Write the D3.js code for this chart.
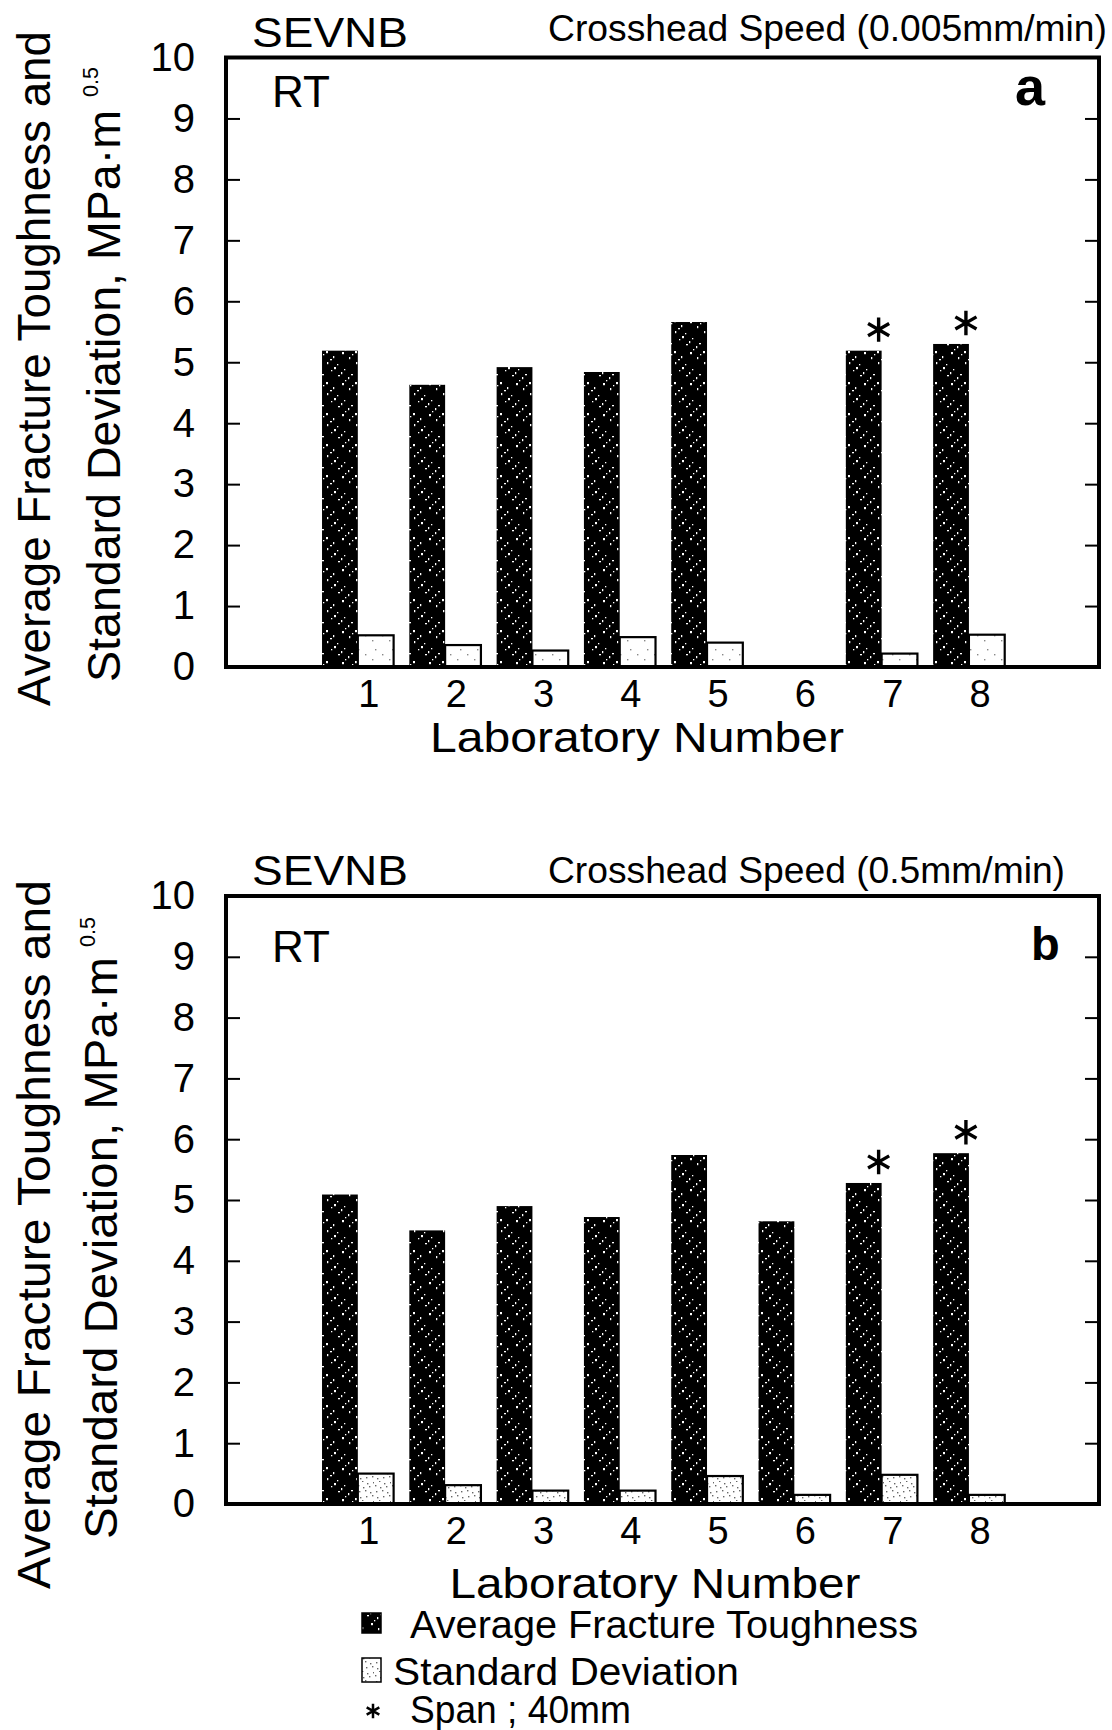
<!doctype html>
<html>
<head>
<meta charset="utf-8">
<script src="https://cdn.jsdelivr.net/npm/d3@7"></script>
<style>
  body { margin: 0; background: #fff; }
  svg { display: block; font-family: "Liberation Sans", Arial, sans-serif; }
</style>
</head>
<body>
<script>
// Values (MPa·m^0.5)
const labs = [1, 2, 3, 4, 5, 6, 7, 8];
const toughnessA = [5.19, 4.63, 4.92, 4.84, 5.66, null, 5.19, 5.30];
const stdDevA = [0.52, 0.36, 0.27, 0.49, 0.40, null, 0.22, 0.53];
const toughnessB = [5.09, 4.50, 4.90, 4.72, 5.74, 4.65, 5.28, 5.77];
const stdDevB = [0.50, 0.31, 0.22, 0.22, 0.46, 0.15, 0.48, 0.15];
const spanA = [7, 8]; // labs tested with 40 mm span
const spanB = [7, 8];
const yTicks = d3.range(0, 11);
const slots = d3.range(0, 10);

const width = 1112;
const height = 1730;

const svg = d3.select("body").append("svg")
    .attr("width", width)
    .attr("height", height)
    .attr("viewBox", [0, 0, width, height]);

// Textures: black with white specks, light stipple
const defs = svg.append("defs");
const dark = defs.append("pattern")
    .attr("id", "dark")
    .attr("patternUnits", "userSpaceOnUse")
    .attr("width", 29).attr("height", 31);
dark.append("rect").attr("width", 29).attr("height", 31).attr("fill", "#000");
dark.selectAll("rect.s")
  .data(d3.range(16))
  .join("rect")
    .attr("class", "s")
    .attr("x", (i) => (i * 11 + 3) % 29)
    .attr("y", (i) => (i * 13 + 2) % 31)
    .attr("width", (i) => (i % 3 === 0 ? 2 : 1.3))
    .attr("height", (i) => (i % 2 === 0 ? 1.3 : 2.2))
    .attr("fill", "#fff");

function stipple(id, n, color) {
  const p = defs.append("pattern")
      .attr("id", id)
      .attr("patternUnits", "userSpaceOnUse")
      .attr("width", 17).attr("height", 19);
  p.append("rect").attr("width", 17).attr("height", 19).attr("fill", "#fff");
  p.selectAll("rect.s")
    .data(d3.range(n))
    .join("rect")
      .attr("class", "s")
      .attr("x", (i) => (i * 7 + 1) % 17)
      .attr("y", (i) => (i * 5 + 3) % 19)
      .attr("width", 1.4).attr("height", 1.4)
      .attr("fill", color);
}
stipple("lightA", 3, "#888");
stipple("lightB", 12, "#666");

function drawPanel(p) {
  const x = d3.scaleBand(slots, [226, 1099]);
  const sub = d3.scaleBand(["aft", "sd"], [x.bandwidth() * 0.1, x.bandwidth() * 0.92]);
  const y = d3.scaleLinear([0, 10], [p.y0, p.y10]);
  const g = svg.append("g");

  const rows = labs.map((lab, i) => ({lab, aft: p.aft[i], sd: p.sd[i], span: p.span.includes(lab)}));

  // Average fracture toughness bars
  g.append("g")
    .selectAll("rect")
    .data(rows.filter((d) => d.aft != null))
    .join("rect")
      .attr("x", (d) => x(d.lab) + sub("aft"))
      .attr("width", sub.bandwidth())
      .attr("y", (d) => y(d.aft))
      .attr("height", (d) => y(0) - y(d.aft))
      .attr("fill", "url(#dark)");

  // Standard deviation bars
  g.append("g")
    .selectAll("rect")
    .data(rows.filter((d) => d.sd != null))
    .join("rect")
      .attr("x", (d) => x(d.lab) + sub("sd"))
      .attr("width", sub.bandwidth())
      .attr("y", (d) => y(d.sd))
      .attr("height", (d) => y(0) - y(d.sd))
      .attr("fill", `url(#${p.light})`)
      .attr("stroke", "#000")
      .attr("stroke-width", 2.2);

  // Span markers
  g.append("g")
    .selectAll("path")
    .data(rows.filter((d) => d.span && d.aft != null))
    .join("path")
      .attr("transform", (d) => `translate(${x(d.lab) + sub("aft") + sub.bandwidth() - 3},${y(d.aft) - 21})`)
      .attr("d", d3.symbol(d3.symbolAsterisk, 420))
      .attr("fill", "none")
      .attr("stroke", "#000")
      .attr("stroke-width", 3.4);

  // Frame
  g.append("rect")
      .attr("x", x.range()[0])
      .attr("y", y(10))
      .attr("width", x.range()[1] - x.range()[0])
      .attr("height", y(0) - y(10))
      .attr("fill", "none")
      .attr("stroke", "#000")
      .attr("stroke-width", 4);

  // Inward ticks on both sides
  g.append("g")
      .attr("transform", `translate(${x.range()[0]},0)`)
      .call(d3.axisRight(y).tickValues(yTicks).tickSize(14).tickFormat(""))
      .call((s) => s.select(".domain").remove())
      .call((s) => s.selectAll("line").attr("stroke-width", 2));
  g.append("g")
      .attr("transform", `translate(${x.range()[1]},0)`)
      .call(d3.axisLeft(y).tickValues(yTicks).tickSize(14).tickFormat(""))
      .call((s) => s.select(".domain").remove())
      .call((s) => s.selectAll("line").attr("stroke-width", 2));

  // Y tick labels
  g.append("g")
      .attr("transform", `translate(${x.range()[0]},0)`)
      .call(d3.axisLeft(y).tickValues(yTicks).tickSize(0).tickPadding(31))
      .call((s) => s.select(".domain").remove())
      .call((s) => s.attr("font-size", 40).attr("font-family", null))
      .call((s) => s.selectAll("text").attr("fill", "#000"));

  // X tick labels
  g.append("g")
      .attr("transform", `translate(0,${y(0)})`)
      .call(d3.axisBottom(x).tickValues(labs).tickSize(0).tickPadding(p.xPad))
      .call((s) => s.select(".domain").remove())
      .call((s) => s.attr("font-size", 38).attr("font-family", null))
      .call((s) => s.selectAll("text").attr("fill", "#000").attr("dx", 12));

  const text = (str, tx, ty, size, len, opts = {}) => {
    const t = svg.append("text")
        .attr("transform", `translate(${tx},${ty})${opts.rotate ? " rotate(-90)" : ""}`)
        .attr("font-size", size)
        .attr("font-weight", opts.bold ? "bold" : null)
        .attr("text-anchor", opts.anchor || "start")
        .attr("fill", "#000")
        .text(str);
    if (len) t.attr("textLength", len).attr("lengthAdjust", "spacingAndGlyphs");
    return t;
  };

  text("SEVNB", 252, p.titleY, 42, 156);
  text(p.speed, 548, p.speedY, 37, p.speedLen);
  text("RT", 272, p.rtY, 44, 58);
  text(p.tag, p.tagX, p.tagY, p.tagSize, null, {bold: true});
  text("Laboratory Number", p.xTitleX, p.xTitleY, 42, p.xTitleLen, {anchor: "middle"});
  text("Average Fracture Toughness and", 50, p.t1Start, 46, p.t1Len, {rotate: true});
  text("Standard Deviation, MPa\u00b7m", p.t2X, p.t2Start, 46, p.t2Len, {rotate: true});
  text("0.5", p.t2X - 22, p.supStart, 22, 30, {rotate: true});
}

drawPanel({
  aft: toughnessA, sd: stdDevA, span: spanA, light: "lightA",
  y0: 667, y10: 57.5, xPad: 13,
  titleY: 47, speed: "Crosshead Speed (0.005mm/min)", speedY: 41, speedLen: 559,
  rtY: 107, tag: "a", tagX: 1015, tagY: 105, tagSize: 54,
  xTitleX: 637, xTitleY: 752, xTitleLen: 414,
  t1Start: 706, t1Len: 675, t2X: 120, t2Start: 682, t2Len: 572, supStart: 97
});

drawPanel({
  aft: toughnessB, sd: stdDevB, span: spanB, light: "lightB",
  y0: 1504, y10: 896, xPad: 13,
  titleY: 885, speed: "Crosshead Speed (0.5mm/min)", speedY: 883, speedLen: 517,
  rtY: 962, tag: "b", tagX: 1031, tagY: 960, tagSize: 47,
  xTitleX: 655, xTitleY: 1598, xTitleLen: 411,
  t1Start: 1589, t1Len: 709, t2X: 117, t2Start: 1539, t2Len: 582, supStart: 947
});

// Legend
const legendItems = ["Average Fracture Toughness", "Standard Deviation"];
const legendFill = ["url(#dark)", "url(#lightB)"];
const legendY = [1613, 1658];
const legendH = [20, 24];
const legendTextX = [410, 393];
const legendTextY = [1638, 1685];
const legendLen = [508, 346];

const legend = svg.append("g");
legend.selectAll("rect")
  .data(legendItems)
  .join("rect")
    .attr("x", 362)
    .attr("y", (d, i) => legendY[i])
    .attr("width", 19)
    .attr("height", (d, i) => legendH[i])
    .attr("fill", (d, i) => legendFill[i])
    .attr("stroke", "#000")
    .attr("stroke-width", 1.5);
legend.selectAll("text")
  .data(legendItems)
  .join("text")
    .attr("x", (d, i) => legendTextX[i])
    .attr("y", (d, i) => legendTextY[i])
    .attr("font-size", 38)
    .attr("textLength", (d, i) => legendLen[i])
    .attr("lengthAdjust", "spacingAndGlyphs")
    .text((d) => d);
legend.append("path")
    .attr("transform", "translate(373,1711)")
    .attr("d", d3.symbol(d3.symbolAsterisk, 150))
    .attr("fill", "none")
    .attr("stroke", "#000")
    .attr("stroke-width", 2.5);
legend.append("text")
    .attr("x", 410)
    .attr("y", 1723)
    .attr("font-size", 38)
    .attr("textLength", 221)
    .attr("lengthAdjust", "spacingAndGlyphs")
    .text("Span ; 40mm");
</script>
</body>
</html>
